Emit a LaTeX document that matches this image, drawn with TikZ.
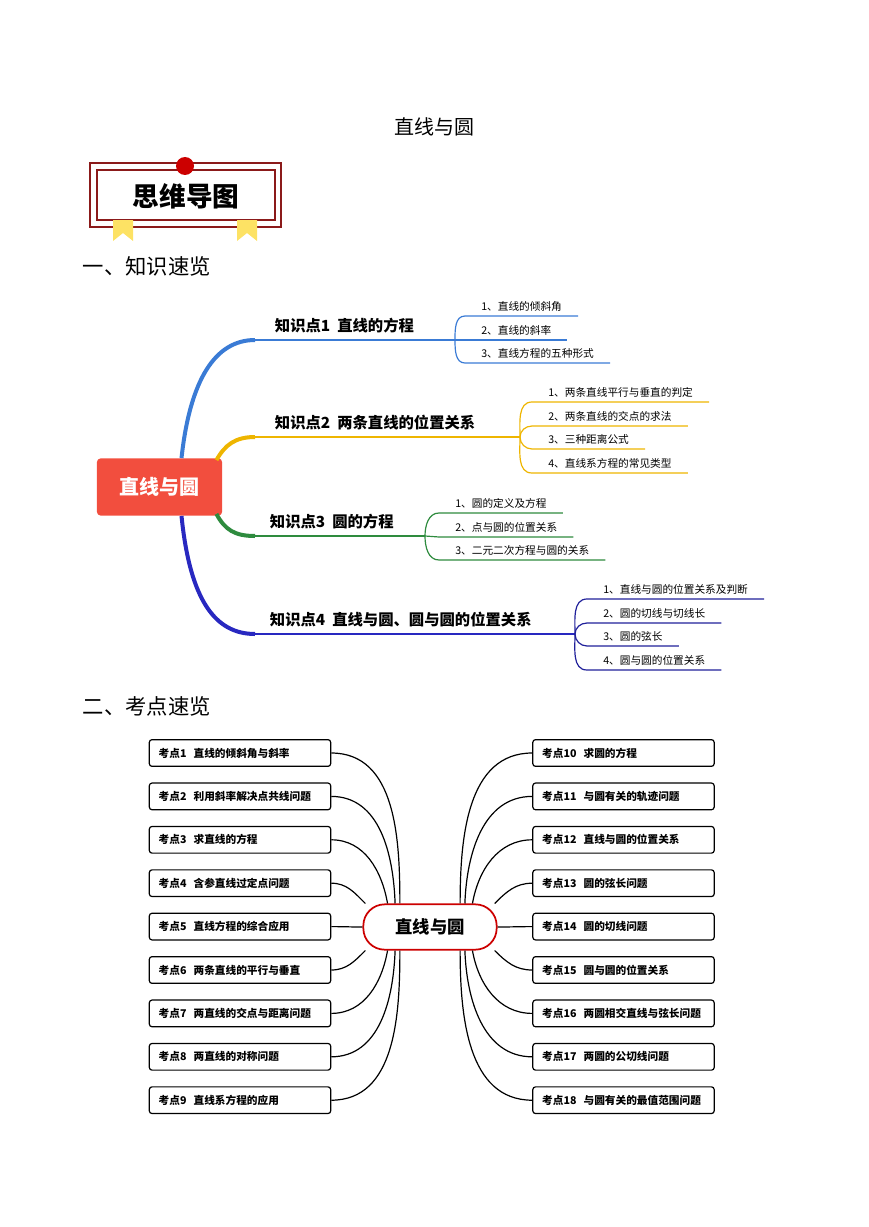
\documentclass[tikz,border=0pt]{standalone}
\usepackage{fontspec}
\setmainfont{Noto Sans CJK SC}
\usetikzlibrary{positioning}
\definecolor{kblue}{HTML}{3A7BD5}
\definecolor{kyellow}{HTML}{EEB500}
\definecolor{kgreen}{HTML}{2E8B3E}
\definecolor{kviolet}{HTML}{2828C0}
\definecolor{kred}{HTML}{F24E3E}
\definecolor{kdark}{HTML}{8B1A1A}
\tikzset{
  leaf/.style={anchor=south west, inner xsep=12, inner ysep=3, font=\fontsize{8}{9}\selectfont},
  branch/.style={anchor=south west, inner sep=2, font=\fontsize{11.5}{13}\selectfont\bfseries},
  topic/.style={draw, line width=0.9pt, rounded corners=2pt, minimum width=136pt, minimum height=20pt, inner xsep=6pt, font=\fontsize{8}{9}\selectfont\bfseries},
  heading/.style={anchor=west, font=\fontsize{16}{18}\selectfont}
}
\begin{document}
\begin{tikzpicture}[x=0.75pt,y=-0.75pt]
\useasboundingbox (0,0) rectangle (868,1227);

% title
\node (title) at (434,127) {\fontsize{15}{17}\selectfont 直线与圆};

% badge
\draw[kdark, line width=0.8pt] (90,163) rectangle (281,227);
\draw[kdark, line width=0.8pt] (97,170) rectangle (275,220);
\fill[yellow!70!orange!60] (113,220) -- (133,220) -- (133,241) -- (123,233) -- (113,241) -- cycle;
\fill[yellow!70!orange!60] (237,220) -- (257,220) -- (257,241) -- (247,233) -- (237,241) -- cycle;
\fill[red!80!black] (185,166) circle (9);
\node (badge) at (186,196) {\fontsize{20}{22}\selectfont\bfseries 思维导图};

\node[heading] (sec1) at (78,266) {一、知识速览};

% mind map
\node[fill=kred, text=white, rounded corners=3pt, minimum width=94pt, minimum height=43pt,
      font=\fontsize{15}{17}\selectfont\bfseries] (root) at (159.5,487) {直线与圆};

\coordinate (b1) at (455,340);
\coordinate (b2) at (520,437);
\coordinate (b3) at (425,536);
\coordinate (b4) at (575,634);

\draw[kblue, line width=3pt] (root.north)+(22,0) .. controls (190,380) and (215,340) .. (255,340);
\draw[kblue, line width=1.2pt] (253,340) -- (b1);
\draw[kyellow, line width=3pt] (root.north east)+(-6,2) .. controls (225,445) and (235,437) .. (255,437);
\draw[kyellow, line width=1.2pt] (253,437) -- (b2);
\draw[kgreen, line width=3pt] (root.south east)+(-6,-2) .. controls (225,530) and (235,536) .. (255,536);
\draw[kgreen, line width=1.2pt] (253,536) -- (b3);
\draw[kviolet, line width=3pt] (root.south)+(22,0) .. controls (190,600) and (215,634) .. (255,634);
\draw[kviolet, line width=1.2pt] (253,634) -- (b4);

\node[branch] (p1) at (272,336) {知识点1\ \ 直线的方程};
\node[branch] (p2) at (272,433) {知识点2\ \ 两条直线的位置关系};
\node[branch] (p3) at (267,532) {知识点3\ \ 圆的方程};
\node[branch] (p4) at (267,630) {知识点4\ \ 直线与圆、圆与圆的位置关系};

% leaves of branch 1
\node[leaf] (k1a) at (465,316) {1、直线的倾斜角};
\node[leaf] (k1b) at (465,340) {2、直线的斜率};
\node[leaf] (k1c) at (465,363) {3、直线方程的五种形式};
\draw[kblue, line width=0.9pt] (b1) to[out=90,in=180] (k1a.south west) -- (k1a.south east);
\draw[kblue, line width=0.9pt] (b1) -- (k1b.south west) -- (k1b.south east);
\draw[kblue, line width=0.9pt] (b1) to[out=-90,in=180] (k1c.south west) -- (k1c.south east);

% leaves of branch 2
\node[leaf] (k2a) at (532,402) {1、两条直线平行与垂直的判定};
\node[leaf] (k2b) at (532,426) {2、两条直线的交点的求法};
\node[leaf] (k2c) at (532,449) {3、三种距离公式};
\node[leaf] (k2d) at (532,473) {4、直线系方程的常见类型};
\foreach \k/\o in {k2a/90,k2b/90,k2c/-90,k2d/-90}
  \draw[kyellow, line width=0.9pt] (b2) to[out=\o,in=180] (\k.south west) -- (\k.south east);

% leaves of branch 3
\node[leaf] (k3a) at (439,513) {1、圆的定义及方程};
\node[leaf] (k3b) at (439,537) {2、点与圆的位置关系};
\node[leaf] (k3c) at (439,560) {3、二元二次方程与圆的关系};
\draw[kgreen, line width=0.9pt] (b3) to[out=90,in=180] (k3a.south west) -- (k3a.south east);
\draw[kgreen, line width=0.9pt] (b3) -- (k3b.south west) -- (k3b.south east);
\draw[kgreen, line width=0.9pt] (b3) to[out=-90,in=180] (k3c.south west) -- (k3c.south east);

% leaves of branch 4
\node[leaf] (k4a) at (587,599) {1、直线与圆的位置关系及判断};
\node[leaf] (k4b) at (587,623) {2、圆的切线与切线长};
\node[leaf] (k4c) at (587,646) {3、圆的弦长};
\node[leaf] (k4d) at (587,670) {4、圆与圆的位置关系};
\foreach \k/\o in {k4a/90,k4b/90,k4c/-90,k4d/-90}
  \draw[kviolet!80!black, line width=0.9pt] (b4) to[out=\o,in=180] (\k.south west) -- (\k.south east);

\node[heading] (sec2) at (78,706) {二、考点速览};

% exam points
\node[draw=red!80!black, line width=1.3pt, rounded corners=16pt, minimum width=100pt, minimum height=34pt,
      font=\fontsize{13}{15}\selectfont\bfseries] (hub) at (430,927) {直线与圆};

\foreach \i/\t/\a/\e [evaluate=\i as \y using 753+(\i-1)*43.4] in
  {1/直线的倾斜角与斜率/142/90, 2/利用斜率解决点共线问题/146/92, 3/求直线的方程/151/100,
   4/含参直线过定点问题/160/135, 5/直线方程的综合应用/180/180, 6/两条直线的平行与垂直/200/225,
   7/两直线的交点与距离问题/209/260, 8/两直线的对称问题/214/268, 9/直线系方程的应用/218/270} {
  \node[topic, text width=122pt] (L\i) at (240,\y) {考点\i\ \ \t};
  \draw[line width=0.9pt] (L\i.east) to[out=0,in=\e] (hub.\a);
}
\foreach \i/\t/\a/\e [evaluate=\i as \y using 753+(\i-10)*43.4] in
  {10/求圆的方程/38/90, 11/与圆有关的轨迹问题/34/88, 12/直线与圆的位置关系/29/80,
   13/圆的弦长问题/20/45, 14/圆的切线问题/0/0, 15/圆与圆的位置关系/-20/-45,
   16/两圆相交直线与弦长问题/-29/-80, 17/两圆的公切线问题/-34/-88, 18/与圆有关的最值范围问题/-38/-90} {
  \node[topic, text width=122pt] (R\i) at (623.5,\y) {考点\i\ \ \t};
  \draw[line width=0.9pt] (R\i.west) to[out=180,in=\e] (hub.\a);
}
\end{tikzpicture}
\end{document}
